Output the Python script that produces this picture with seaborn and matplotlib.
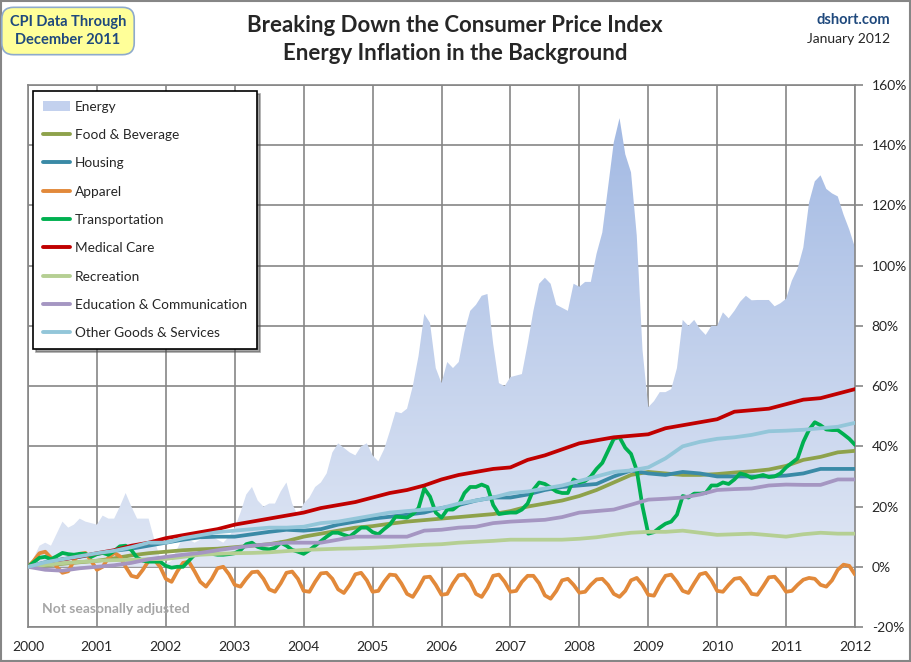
import numpy as np
import pandas as pd
import seaborn as sns
import matplotlib.pyplot as plt
from matplotlib.patches import Rectangle, Patch
from matplotlib.lines import Line2D
from matplotlib.colors import LinearSegmentedColormap
from matplotlib.ticker import FuncFormatter

# monthly points Dec 1999 .. Dec 2011, drawn at 2000.0 .. 2012.0
months = 2000 + np.arange(145) / 12
quarters = 2000 + np.arange(49) / 4

energy = [0, 3, 7, 8, 7, 11, 15, 13, 14, 16, 15, 14.5,
          14, 17, 16, 16, 20, 24.5, 20, 16, 16, 16, 9, 3,
          1, 2, 6, 10, 9, 8, 9, 10, 10, 9, 8, 10,
          13, 18, 24, 26.5, 22, 20, 21, 21, 25, 28, 21, 17,
          21, 23, 26.5, 28, 31, 38, 41, 39.5, 38, 37, 40, 41,
          37, 35, 39, 45, 51.5, 51, 52.5, 60, 70, 84, 81, 66,
          61, 68, 66, 68, 78, 85, 87, 90, 90.6, 74, 61, 60,
          63, 63.5, 64, 74, 85, 94, 96, 94, 87, 86, 85, 94,
          93, 94.6, 94.6, 104, 111, 126, 141, 149, 137, 131, 110, 72,
          53, 55, 58, 58, 59, 66, 82, 80, 82, 79, 77, 80,
          80, 84.5, 82.5, 85, 88, 90, 88.5, 88.6, 88.6, 88.6, 86.5, 87.5,
          89, 95, 99, 106, 121, 128, 130, 125.5, 124, 123, 117, 112, 106]

transportation = [0, 1.5, 3, 3.3, 2.5, 3.5, 4.6, 4.2, 4, 4.3, 4.3, 3.3,
                  4.2, 4.6, 4, 5.2, 6.8, 7, 5.5, 3, 2, 1.7, 1.7, 1.7,
                  0.3, -0.3, 0, 0, 2, 4, 4.6, 4.6, 4.3, 4, 4, 4.2,
                  4.5, 5.5, 7.5, 8, 6.6, 6, 5.8, 6.3, 8, 7, 5.6, 5,
                  4.3, 5.5, 7, 8.5, 10, 11.3, 11.3, 10.6, 10, 11.5, 13, 13,
                  11.5, 10.8, 12.5, 14, 16.6, 16.5, 16.3, 17.5, 19.5, 26, 23.3, 18,
                  16.3, 19, 19, 20.5, 24.5, 26.5, 26.5, 27.3, 26.5, 20.5, 17.5, 17.8,
                  18, 18, 19, 21, 25.6, 28, 27.5, 26.3, 25, 24.5, 24.5, 29,
                  28, 28.5, 30, 32.5, 34.5, 38.5, 42.5, 43, 39.5, 37.5, 32, 20,
                  11, 11.5, 13, 14.3, 15, 17.3, 23.5, 23, 24.3, 24.3, 24.5, 27,
                  27, 28, 27.5, 29, 31, 30.5, 29.5, 30, 30.5, 29.8, 30, 31,
                  33, 34.5, 36, 41.5, 45.5, 48, 47, 45.6, 45.4, 45.4, 44, 42.5, 40.5]

apparel = [0, 2, 4.5, 5, 3, 0, -2, -1.5, 2, 4.3, 4.6, 2,
           -1, 0, 3, 4.6, 3.5, 0, -3, -3.5, -1, 2, 2.3, 0,
           -4, -5, -1.5, 1.3, 1.7, -1.5, -5, -6.6, -4, -0.5, 0, -2.5,
           -6, -6.6, -4, -1.8, -1.6, -4, -7.5, -8.3, -5.5, -2, -1.6, -4,
           -8, -8.3, -5, -2.2, -2, -4, -7.5, -8.7, -6, -2.5, -2, -4.5,
           -8.3, -8, -5, -2.6, -2.8, -5.5, -9, -10, -7, -3.5, -3.3, -6,
           -9.3, -9, -5.5, -2.8, -2.6, -5, -9, -10, -7, -3, -2.6, -5,
           -8.3, -8, -5, -3, -3, -5.5, -9.5, -10.6, -8, -4.5, -4, -6,
           -8.6, -8.3, -6, -4.2, -4, -6, -9, -10, -8, -4.5, -3.7, -6,
           -9.3, -9.6, -6, -3, -2.6, -5, -8, -8.7, -5.5, -2.5, -2, -4.5,
           -8, -8.3, -6, -4, -3.7, -6, -9, -9.3, -6.5, -3.5, -3.3, -5.5,
           -8.3, -8, -6, -4.3, -3.7, -4, -6, -6.6, -4.5, -1, 0.7, 0.3, -2.6]

# quarterly readings
food = [0, 0.5, 1, 1.5, 2, 2.8, 3.8, 4.5, 5, 5.5, 5.8, 6,
        6.5, 7, 7.5, 8.5, 10, 11, 12, 13, 13.5, 14.3, 15, 15.5,
        16, 16.5, 17, 17.5, 18.5, 20, 21, 22, 23.5, 25.5, 28, 30.5,
        31.5, 31, 30.5, 30.5, 30.8, 31.3, 31.7, 32.3, 33.5, 35.5, 36.5, 38, 38.5]
housing = [0, 1.5, 2.5, 3.3, 4.3, 5.3, 6, 7, 8, 9, 9.8, 10,
           10, 10.8, 11.6, 12.3, 12, 12.5, 14, 15, 16, 16.6, 17.3, 18,
           19.5, 20.5, 22, 23, 23, 24, 25.5, 26.5, 27, 27.5, 30, 32,
           31, 30.5, 31.5, 31, 30, 30, 30, 30, 30.3, 31, 32.5, 32.5, 32.5]
medical = [0, 1.2, 2.4, 3.4, 4.5, 5.5, 7, 8, 9.5, 10.5, 11.5, 12.5,
           14, 15, 16, 17, 18, 19.5, 20.5, 21.5, 23, 24.5, 25.5, 27,
           29, 30.5, 31.5, 32.5, 33, 35.5, 37, 39, 41, 42, 43, 43.5,
           44, 46, 47, 48, 49, 51.5, 52, 52.5, 54, 55.5, 56, 57.5, 59]
recreation = [0, 0.6, 1.2, 1.6, 2, 2.2, 2.3, 2.5, 2.6, 3.3, 4, 4.3,
              4.5, 4.6, 4.8, 5.2, 5.6, 5.8, 6, 6.1, 6.3, 6.6, 7, 7.3,
              7.5, 8, 8.3, 8.6, 9, 9, 9, 9, 9.3, 9.8, 10.6, 11.3,
              11.6, 11.6, 12, 11.3, 10.6, 10.8, 11, 10.5, 10, 10.8, 11.3, 11, 11]
education = [0, -1, -1.3, -0.5, 0, 0.5, 1.3, 2.5, 3.3, 4, 4.6, 5.5,
             6.3, 7, 7.5, 8, 8, 8, 9, 10, 10, 10, 10, 12,
             12.3, 13, 13.3, 14.5, 15, 15.3, 15.6, 16.5, 18, 18.5, 19, 20.6,
             22.3, 22.6, 23, 24, 25.5, 25.8, 26, 27, 27.3, 27.2, 27.2, 29, 29]
other = [0, 1.5, 2.5, 3.5, 4.5, 5.3, 6.5, 8, 8, 9.5, 10.5, 11.5,
         12, 12.5, 13, 13, 13.3, 14.5, 15, 16, 17, 18, 18.5, 19,
         19.5, 21, 22, 23, 24.5, 25, 26, 27, 28.5, 30, 31.5, 32,
         33, 36, 40, 41.5, 42.5, 43, 43.8, 45, 45.2, 45.5, 46, 46.5, 47.8]

order = ['Food & Beverage', 'Housing', 'Apparel', 'Transportation', 'Medical Care',
         'Recreation', 'Education & Communication', 'Other Goods & Services']
colors = {'Food & Beverage': '#8ea24b', 'Housing': '#3a8aa6', 'Apparel': '#e2893a',
          'Transportation': '#00b050', 'Medical Care': '#c00000', 'Recreation': '#b5cf93',
          'Education & Communication': '#a596c2', 'Other Goods & Services': '#93c6d9'}

frames = []
for name, x, vals in [('Food & Beverage', quarters, food), ('Housing', quarters, housing),
                      ('Apparel', months, apparel), ('Transportation', months, transportation),
                      ('Medical Care', quarters, medical), ('Recreation', quarters, recreation),
                      ('Education & Communication', quarters, education),
                      ('Other Goods & Services', quarters, other)]:
    frames.append(pd.DataFrame({'date': x, 'value': vals, 'series': name}))
df = pd.concat(frames, ignore_index=True)

sns.set_style('white')
plt.rcParams['font.family'] = ['Lato', 'DejaVu Sans']

fig = plt.figure(figsize=(9.11, 6.62), dpi=100)
ax = fig.add_axes([28/911, 1-627/662, (855-28)/911, (627-85)/662])

# energy area with vertical gradient
poly = ax.fill_between(months, 0, energy, color='none', lw=0)
cmap = LinearSegmentedColormap.from_list('en', ['#dfe6f4', '#a2b9e3'])
grad = np.linspace(0, 1, 256).reshape(-1, 1)
im = ax.imshow(grad, extent=[2000, 2012, 0, 150], aspect='auto', cmap=cmap,
               origin='lower', zorder=1)
im.set_clip_path(poly.get_paths()[0], transform=ax.transData)

sns.lineplot(data=df, x='date', y='value', hue='series', hue_order=order,
             palette=colors, estimator=None, sort=False, lw=2.7,
             legend=False, ax=ax, zorder=3)
for ln in ax.get_lines():
    ln.set_solid_joinstyle('round')
    ln.set_solid_capstyle('round')

ax.set_xlim(2000, 2012)
ax.set_ylim(-20, 160)
ax.set_xticks(range(2000, 2013))
ax.set_yticks(range(-20, 161, 20))
ax.yaxis.set_major_formatter(FuncFormatter(lambda v, p: f'{v:.0f}%'))
ax.yaxis.tick_right()
ax.grid(True, color='#868686', lw=1.2)
ax.set_axisbelow(True)
ax.set_xlabel('')
ax.set_ylabel('')
for s in ax.spines.values():
    s.set_color('#868686')
    s.set_linewidth(1.2)
ax.tick_params(axis='y', direction='out', length=6, width=1.2, color='#868686',
               labelsize=10, pad=6, right=True, left=False)
ax.tick_params(axis='x', length=0, pad=10, labelsize=10)

handles = [Patch(facecolor='#c3d1ee', edgecolor='none')]
handles += [Line2D([], [], color=colors[n], lw=2.8) for n in order]
leg = ax.legend(handles, ['Energy'] + order, loc='upper left',
                bbox_to_anchor=(33/911, 1-91/662), bbox_transform=fig.transFigure,
                fontsize=9.8, labelspacing=1.2, handlelength=2.0, handletextpad=0.4,
                borderpad=0.7, borderaxespad=0, fancybox=False, shadow=True,
                frameon=True)
leg.get_frame().set_edgecolor('black')
leg.get_frame().set_linewidth(1.2)
leg.set_zorder(5)

fig.text(455/911, 1-25/662, 'Breaking Down the Consumer Price Index', ha='center',
         va='center', fontsize=16, weight='bold')
fig.text(455/911, 1-54/662, 'Energy Inflation in the Background', ha='center',
         va='center', fontsize=16, weight='bold')

fig.text(68/911, 1-31/662, 'CPI Data Through\nDecember 2011', ha='center', va='center',
         fontsize=10.5, weight='bold', color='#1f497d', linespacing=1.3,
         bbox=dict(boxstyle='round,pad=0.55,rounding_size=0.8', fc='#ffff99',
                   ec='#8eaacc', lw=1.2))

fig.text(890/911, 1-20/662, 'dshort.com', ha='right', va='center', fontsize=10.5,
         weight='bold', color='#1f497d')
fig.text(890/911, 1-39/662, 'January 2012', ha='right', va='center', fontsize=10)

fig.text(42/911, 1-609/662, 'Not seasonally adjusted', ha='left', va='center',
         fontsize=10, weight='bold', color='#a6a6a6')

fig.patches.append(Rectangle((0.001, 0.001), 0.998, 0.997, transform=fig.transFigure,
                             fill=False, ec='#868686', lw=1.5))

fig.savefig('out.png', dpi=100)
